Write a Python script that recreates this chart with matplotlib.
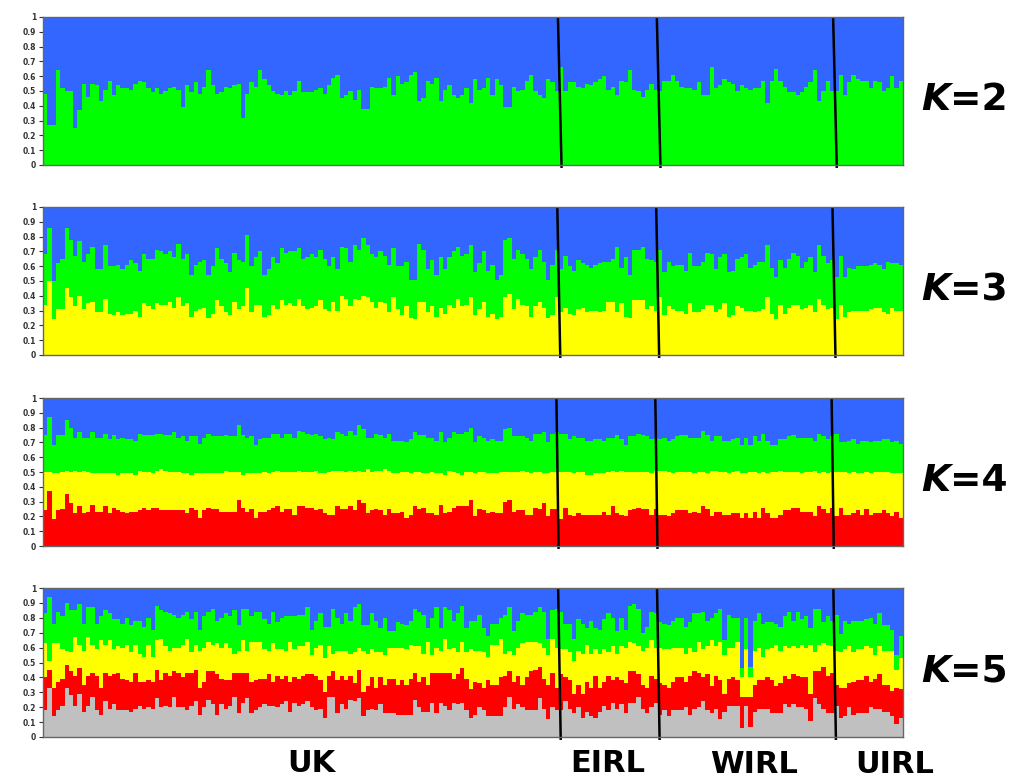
import numpy as np
import matplotlib
matplotlib.use("Agg")
import matplotlib.pyplot as plt

groups = ["UK", "EIRL", "WIRL", "UIRL"]
group_sizes = [120, 23, 41, 16]

# cumulative ancestry (%) per individual, bottom layer upward
k2_green = [
    48, 27, 27, 64, 52, 50, 50, 25, 37, 55, 46, 55, 54, 43, 51, 57, 47, 54, 52, 52,
    51, 55, 57, 56, 52, 49, 52, 48, 50, 52, 53, 51, 39, 54, 49, 56, 48, 53, 64, 54,
    48, 49, 53, 52, 54, 55, 32, 48, 56, 53, 64, 58, 54, 50, 48, 47, 50, 47, 50, 57,
    49, 49, 49, 51, 52, 48, 54, 59,
    61, 45, 47, 50, 44, 51, 38, 38, 53, 52, 52, 53, 59, 47, 60, 55, 56, 61, 63, 43,
    45, 57, 55, 59, 43, 51, 54, 47, 45, 47, 52, 42, 58, 51, 52, 59, 47, 58, 54, 39,
    39, 53, 50, 51, 57, 61, 50, 47, 45, 58, 56, 50,
    66, 50, 56, 56, 53, 52, 55, 54, 56, 58, 60, 51, 53, 47, 57, 56, 64, 51, 50, 46,
    51, 55, 51,
    50, 57, 57, 61, 57, 53, 52, 52, 51, 56, 47, 47, 66, 52, 54, 58, 56, 55, 50, 54,
    52, 51, 52, 52, 57, 42, 57, 65, 57, 53, 49, 49, 47, 49, 53, 56, 64, 43, 50, 57,
    50,
    50, 61, 47, 56, 61, 58, 57, 57, 52, 57, 56, 50, 52, 60, 52, 57,
]

k3_yellow = [
    34, 50, 24, 31, 31, 45, 39, 33, 40, 31, 35, 36, 29, 29, 38, 28, 27, 29, 27, 28,
    28, 30, 26, 35, 33, 31, 35, 34, 34, 36, 32, 39, 33, 35, 26, 30, 31, 32, 25, 28,
    37, 33, 29, 27, 36, 31, 33, 45, 29, 34, 34, 26, 27, 34, 31, 37, 34, 35, 33, 38,
    33, 31, 32, 33, 37, 31, 30, 36,
    30, 40, 38, 33, 38, 37, 40, 39, 36, 32, 36, 35, 29, 39, 31, 27, 33, 25, 24, 36,
    36, 29, 33, 26, 32, 28, 34, 32, 38, 33, 34, 39, 27, 31, 36, 26, 28, 24, 26, 39,
    41, 31, 38, 34, 33, 26, 33, 36, 32, 25, 27, 39,
    29, 32, 28, 27, 31, 32, 29, 30, 30, 29, 30, 36, 36, 29, 35, 26, 25, 37, 37, 37,
    31, 33, 30,
    39, 27, 33, 31, 30, 30, 28, 35, 29, 29, 31, 34, 34, 29, 31, 35, 26, 27, 33, 32,
    30, 30, 29, 30, 31, 39, 28, 24, 34, 28, 32, 34, 34, 31, 32, 34, 29, 38, 34, 31,
    32,
    24, 34, 26, 29, 30, 30, 30, 30, 31, 32, 32, 29, 28, 32, 30, 30,
]
k3_green = [
    68, 86, 50, 62, 65, 86, 78, 67, 77, 63, 68, 73, 58, 58, 74, 60, 60, 61, 58, 61,
    64, 62, 57, 68, 65, 65, 71, 70, 68, 70, 66, 75, 65, 68, 54, 61, 63, 64, 54, 60,
    72, 65, 62, 56, 69, 64, 63, 81, 60, 66, 70, 54, 58, 66, 62, 72, 69, 70, 70, 72,
    65, 66, 68, 66, 71, 65, 60, 66,
    58, 73, 72, 63, 74, 71, 79, 74, 68, 66, 70, 67, 61, 72, 60, 60, 63, 51, 51, 75,
    71, 58, 64, 54, 66, 58, 66, 70, 73, 67, 68, 74, 56, 62, 70, 57, 61, 51, 54, 78,
    79, 65, 71, 68, 65, 58, 66, 71, 63, 51, 61, 71,
    58, 67, 60, 57, 64, 62, 61, 59, 61, 62, 63, 63, 65, 73, 59, 66, 54, 71, 71, 73,
    65, 64, 63,
    71, 56, 63, 60, 61, 61, 57, 69, 60, 60, 63, 69, 68, 58, 66, 68, 56, 57, 65, 66,
    68, 59, 61, 63, 63, 74, 59, 53, 64, 59, 65, 69, 67, 59, 63, 66, 56, 74, 67, 62,
    64,
    53, 67, 53, 59, 58, 60, 60, 60, 61, 62, 61, 58, 63, 62, 62, 61,
]

k4_red = [
    24, 37, 18, 24, 25, 35, 29, 22, 27, 22, 23, 28, 23, 23, 27, 22, 26, 24, 23, 22,
    23, 23, 24, 26, 24, 26, 26, 24, 24, 24, 24, 24, 24, 22, 26, 24, 19, 24, 26, 25,
    25, 23, 23, 23, 23, 31, 26, 23, 25, 19, 23, 23, 24, 26, 27, 23, 25, 25, 21, 27,
    27, 26, 26, 24, 25, 22, 21, 21, 27, 25, 25, 27, 24, 31, 29, 22, 24, 25, 24, 21,
    25, 22, 22, 23, 19, 21, 27, 25, 26, 22, 22, 21, 28, 22, 23, 26, 27, 27,
    27, 31, 20, 25, 24, 22, 23, 22, 22, 30, 31, 23, 24, 24, 21, 21, 26, 25, 29, 20,
    25, 25,
    18, 26, 21, 20, 22, 21, 21, 21, 21, 21, 23, 21, 27, 22, 21, 20, 24, 25, 26, 25,
    25, 21, 25,
    21, 21, 20, 22, 24, 24, 24, 22, 23, 22, 27, 25, 20, 23, 23, 21, 21, 22, 22, 19,
    22, 19, 23, 19, 26, 22, 19, 19, 21, 24, 24, 26, 26, 23, 23, 23, 20, 27, 25, 22,
    26,
    20, 26, 21, 21, 22, 24, 21, 25, 21, 22, 22, 24, 22, 20, 23, 19,
]
k4_yellow = [
    50, 50, 49, 49, 50, 51, 50, 51, 50, 51, 50, 49, 49, 49, 49, 49, 49, 48, 49, 49,
    49, 48, 51, 50, 50, 49, 51, 52, 51, 50, 50, 50, 49, 49, 48, 49, 49, 49, 49, 49,
    49, 49, 51, 50, 50, 50, 48, 49, 49, 49, 49, 50, 49, 50, 51, 50, 50, 50, 50, 51,
    50, 50, 50, 51, 49, 49, 50, 51, 51, 51, 50, 51, 50, 51, 50, 52, 50, 51, 51, 52,
    51, 49, 49, 50, 50, 49, 50, 50, 49, 49, 50, 49, 49, 48, 51, 50, 49, 48,
    50, 50, 49, 50, 50, 49, 49, 49, 50, 50, 50, 50, 50, 51, 50, 49, 50, 50, 49, 49,
    50, 50,
    50, 50, 50, 49, 50, 50, 48, 48, 49, 49, 49, 50, 51, 50, 51, 50, 50, 50, 50, 50,
    50, 49, 51,
    51, 51, 50, 49, 50, 50, 50, 50, 49, 50, 50, 49, 51, 51, 50, 50, 49, 50, 51, 49,
    49, 50, 50, 49, 50, 49, 50, 50, 51, 50, 50, 50, 50, 49, 50, 50, 51, 49, 50, 49,
    50,
    50, 50, 50, 49, 50, 49, 49, 50, 49, 50, 50, 50, 50, 49, 49, 49,
]
k4_green = [
    75, 87, 68, 75, 75, 85, 80, 73, 77, 73, 73, 77, 73, 73, 76, 72, 75, 72, 73, 72,
    72, 71, 76, 75, 75, 75, 76, 76, 75, 75, 77, 73, 74, 71, 74, 74, 69, 73, 76, 74,
    74, 74, 75, 74, 74, 82, 75, 73, 74, 68, 72, 73, 73, 76, 76, 73, 76, 76, 73, 78,
    77, 76, 75, 76, 74, 72, 73, 72, 77, 76, 74, 78, 75, 82, 79, 73, 73, 76, 75, 73,
    76, 71, 71, 71, 70, 72, 77, 75, 75, 73, 73, 71, 77, 70, 73, 77, 76, 76,
    77, 80, 70, 74, 73, 71, 72, 71, 71, 79, 80, 74, 74, 74, 73, 71, 76, 76, 77, 70,
    76, 77,
    76, 76, 72, 74, 73, 73, 71, 71, 72, 72, 71, 73, 73, 75, 72, 68, 74, 74, 76, 75,
    74, 72, 73,
    72, 73, 71, 72, 74, 75, 75, 73, 73, 73, 78, 75, 71, 74, 74, 71, 71, 72, 73, 68,
    73, 68, 74, 71, 76, 71, 68, 68, 72, 72, 74, 75, 73, 73, 73, 73, 71, 76, 74, 72,
    74,
    76, 70, 70, 71, 72, 69, 71, 71, 70, 71, 71, 72, 72, 70, 71, 69,
]

k5_grey = [
    18, 33, 14, 18, 21, 33, 28, 21, 29, 17, 21, 27, 18, 15, 24, 19, 22, 18, 18, 18,
    17, 19, 21, 19, 20, 19, 26, 20, 21, 20, 27, 20, 20, 18, 21, 24, 15, 20, 25, 22,
    15, 22, 19, 21, 27, 16, 23, 26, 16, 18, 20, 22, 21, 21, 20, 22, 24, 17, 23, 21,
    22, 24, 20, 18, 19, 13,
    27, 27, 16, 22, 19, 25, 24, 26, 14, 18, 19, 18, 22, 16, 16, 16, 15, 15, 15, 15,
    25, 20, 17, 17, 23, 16, 23, 21, 18, 23, 22, 23, 18, 13, 15, 20, 18, 14, 14, 14,
    14, 20, 27, 19, 22, 20, 18, 18, 18, 26, 19, 12, 20, 18,
    18, 24, 19, 16, 20, 13, 17, 14, 13, 17, 21, 18, 23, 19, 22, 16, 23, 23, 27, 19,
    16, 20, 23,
    15, 18, 14, 18, 18, 18, 20, 15, 19, 20, 24, 18, 16, 19, 12, 17, 21, 21, 21, 6,
    21, 7, 17, 19, 19, 19, 16, 16, 16, 22, 20, 22, 20, 20, 19, 11, 26, 22, 19, 16,
    16,
    21, 13, 14, 20, 15, 16, 16, 16, 20, 19, 19, 17, 17, 14, 9, 13,
]
k5_red = [
    40, 45, 33, 37, 39, 48, 44, 41, 46, 35, 41, 43, 41, 33, 43, 41, 42, 43, 39, 38,
    37, 43, 37, 37, 38, 37, 45, 38, 43, 41, 44, 43, 40, 43, 43, 45, 33, 37, 44, 44,
    42, 39, 38, 38, 43, 43, 43, 43, 37, 38, 39, 39, 42, 37, 41, 39, 41, 37, 40, 39,
    41, 42, 42, 41, 38, 30,
    41, 44, 38, 41, 38, 41, 36, 45, 30, 34, 40, 33, 40, 35, 39, 39, 35, 38, 35, 39,
    43, 37, 40, 35, 43, 43, 43, 43, 43, 39, 42, 46, 39, 32, 37, 36, 33, 38, 35, 35,
    40, 41, 44, 37, 41, 35, 40, 44, 45, 47, 39, 35, 43, 33,
    42, 40, 38, 29, 35, 29, 37, 33, 41, 33, 37, 41, 38, 40, 38, 36, 44, 44, 42, 35,
    33, 41, 39,
    36, 35, 33, 37, 40, 40, 37, 41, 44, 43, 40, 42, 34, 41, 38, 29, 39, 40, 38, 27,
    27, 27, 35, 38, 38, 40, 38, 34, 36, 41, 39, 42, 41, 40, 40, 29, 44, 44, 47, 41,
    43,
    35, 33, 33, 36, 37, 38, 38, 41, 37, 39, 42, 35, 35, 31, 33, 32,
]
k5_yellow = [
    63, 51, 63, 63, 59, 58, 57, 67, 62, 58, 67, 62, 59, 65, 62, 65, 59, 61, 60, 62,
    57, 62, 56, 54, 62, 54, 65, 66, 61, 58, 60, 60, 62, 66, 57, 62, 58, 60, 64, 62,
    63, 60, 63, 60, 56, 58, 65, 58, 64, 64, 64, 59, 58, 63, 59, 59, 58, 64, 59, 61,
    61, 64, 55, 60, 62, 53,
    61, 56, 58, 58, 58, 56, 57, 60, 58, 56, 59, 57, 57, 55, 60, 60, 60, 60, 59, 62,
    61, 61, 56, 64, 55, 60, 58, 66, 59, 60, 57, 64, 57, 59, 58, 58, 57, 54, 62, 62,
    66, 56, 58, 55, 60, 63, 64, 64, 64, 63, 60, 55, 66, 60,
    59, 59, 57, 51, 58, 56, 62, 56, 59, 56, 59, 57, 61, 56, 61, 60, 64, 63, 61, 58,
    60, 65, 60,
    60, 59, 59, 60, 60, 60, 56, 60, 57, 64, 59, 61, 65, 61, 64, 55, 60, 60, 64, 40,
    59, 40, 58, 60, 54, 59, 60, 62, 58, 61, 60, 61, 60, 62, 60, 62, 57, 62, 63, 62,
    61,
    58, 57, 59, 61, 57, 59, 59, 61, 60, 55, 61, 58, 58, 58, 45, 53,
]
k5_green = [
    83, 94, 76, 84, 81, 90, 85, 85, 89, 76, 87, 87, 76, 81, 85, 83, 79, 79, 76, 80,
    75, 78, 78, 74, 80, 72, 88, 85, 84, 83, 82, 80, 82, 84, 79, 84, 72, 81, 84, 86,
    78, 80, 83, 81, 85, 75, 86, 86, 81, 84, 84, 79, 76, 84, 77, 80, 81, 81, 81, 82,
    82, 87, 72, 78, 83, 74,
    74, 86, 80, 76, 83, 78, 87, 89, 75, 75, 83, 78, 73, 80, 71, 71, 77, 76, 75, 78,
    86, 84, 82, 73, 80, 87, 73, 87, 85, 78, 83, 88, 73, 78, 78, 82, 73, 68, 76, 76,
    80, 82, 87, 71, 78, 83, 82, 82, 84, 87, 84, 66, 85, 86,
    84, 76, 76, 66, 79, 76, 73, 78, 73, 72, 79, 83, 80, 71, 80, 72, 88, 89, 86, 70,
    74, 84, 83,
    77, 76, 75, 78, 80, 80, 74, 77, 83, 83, 84, 78, 80, 83, 86, 65, 82, 80, 80, 46,
    80, 47, 78, 83, 76, 77, 77, 76, 74, 81, 84, 78, 84, 79, 81, 73, 86, 86, 77, 81,
    78,
    82, 69, 78, 76, 78, 78, 78, 79, 80, 76, 83, 75, 75, 72, 55, 68,
]

BLUE = "#3366FF"
GREEN = "#00FF00"
YELLOW = "#FFFF00"
RED = "#FF0000"
GREY = "#C0C0C0"

panels = [
    ("2", [(k2_green, GREEN)]),
    ("3", [(k3_green, GREEN), (k3_yellow, YELLOW)]),
    ("4", [(k4_green, GREEN), (k4_yellow, YELLOW), (k4_red, RED)]),
    ("5", [(k5_green, GREEN), (k5_yellow, YELLOW), (k5_red, RED), (k5_grey, GREY)]),
]

# axes boxes in pixels (top, bottom) and slant of the hand drawn separators (bars)
W, H = 1014, 778
x0, x1 = 43, 903
boxes = [(17, 165), (207, 355), (398, 546), (588, 737)]
slants = [(-0.25, 0.6), (-0.4, 0.3), (-0.6, -0.1), (-0.2, 0.4)]

fig = plt.figure(figsize=(W / 100, H / 100), dpi=100)
bounds = np.cumsum(group_sizes)[:-1]

for (k, layers), (top, bot), (s_top, s_bot) in zip(panels, boxes, slants):
    ax = fig.add_axes([x0 / W, 1 - bot / H, (x1 - x0) / W, (bot - top) / H])
    ax.set_facecolor(BLUE)
    n = len(layers[0][0])
    edges = np.arange(n + 1)
    # paint cumulative layers from the top one down, blue is the background
    for vals, col in layers:
        ax.stairs(np.array(vals) / 100, edges, baseline=0, fill=True,
                  color=col, linewidth=0)
    ax.set_xlim(0, n)
    ax.set_ylim(0, 1)
    ax.set_xticks([])
    ticks = np.round(np.arange(0, 1.01, 0.1), 1)
    ax.set_yticks(ticks)
    ax.set_yticklabels(["0", "0.1", "0.2", "0.3", "0.4", "0.5", "0.6", "0.7", "0.8", "0.9", "1"])
    ax.tick_params(axis="y", length=3, width=0.8, pad=2, labelsize=5.5,
                   colors="#333333")
    for lab in ax.get_yticklabels():
        lab.set_fontweight("bold")
    for sp in ax.spines.values():
        sp.set_color("#666666")
        sp.set_linewidth(1)

    for b in bounds:
        ax.plot([b + s_top, b + s_bot], [1.0, -0.02], color="black", lw=1.8,
                clip_on=False, solid_capstyle="butt")

    ax.text(1.021, 0.37, "K", transform=ax.transAxes, fontsize=27,
            fontweight="bold", fontstyle="italic", va="baseline", ha="left")
    ax.text(1.0547, 0.37, "=" + k, transform=ax.transAxes, fontsize=27,
            fontweight="bold", va="baseline", ha="left")

label_x = [311, 608, 754, 895]
label_base = [772, 772, 773, 773]
for name, lx, ly in zip(groups, label_x, label_base):
    fig.text(lx / W, 1 - ly / H, name, fontsize=22, fontweight="bold",
             ha="center", va="baseline")

fig.savefig("out.png", dpi=100)
